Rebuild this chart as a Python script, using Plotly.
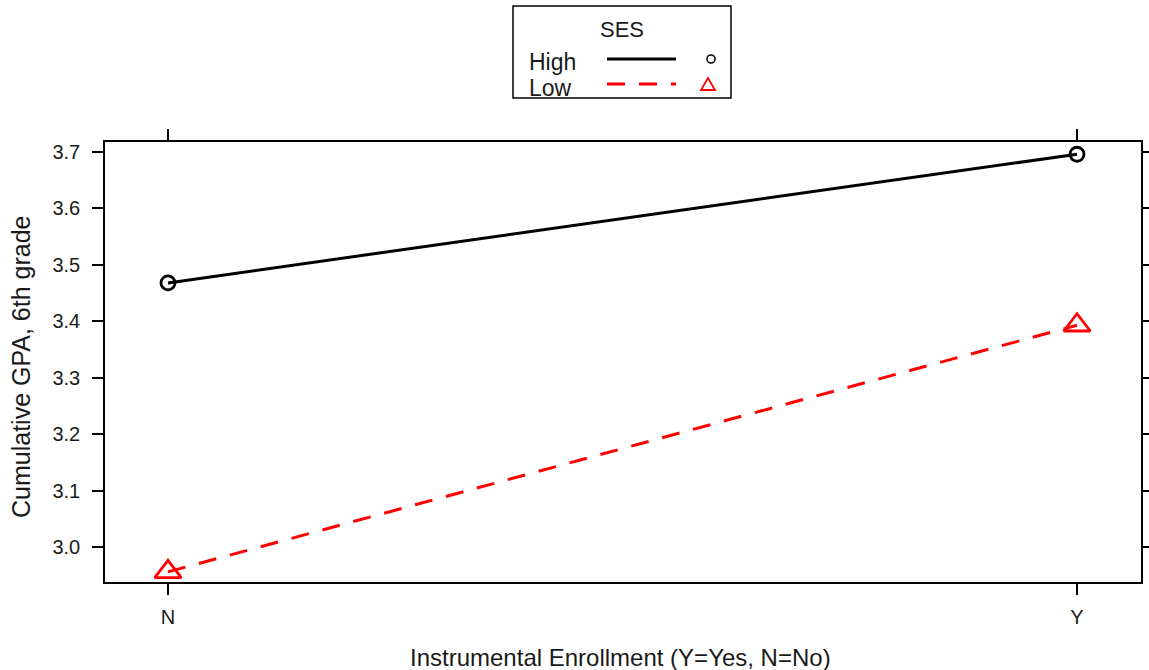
import plotly.graph_objects as go

# ---- data ----
categories = ["N", "Y"]
high_ses = [3.468, 3.696]
low_ses = [2.956, 3.393]
y_ticks = [3.0, 3.1, 3.2, 3.3, 3.4, 3.5, 3.6, 3.7]
y_ticklabels = ["3.0", "3.1", "3.2", "3.3", "3.4", "3.5", "3.6", "3.7"]
legend_title = "SES"
legend_labels = ["High", "Low"]
x_title = "Instrumental Enrollment (Y=Yes, N=No)"
y_title = "Cumulative GPA, 6th grade"

W, H = 1149, 670
ML, MR, MT, MB = 105, 8, 142, 88
PW, PH = W - ML - MR, H - MT - MB

def px(x):
    return (x - ML) / PW

def py(y):
    return (H - MB - y) / PH

FONT = "Liberation Sans, Arial, sans-serif"
TXT = "#1a1a1a"

fig = go.Figure()
fig.add_trace(go.Scatter(
    x=[0, 1], y=high_ses, mode="lines+markers", name="High",
    line=dict(color="black", width=3),
    marker=dict(symbol="circle-open", size=14, color="black", line=dict(width=2.8, color="black")),
    cliponaxis=False, showlegend=False))
fig.add_trace(go.Scatter(
    x=[0, 1], y=low_ses, mode="lines+markers", name="Low",
    line=dict(color="#ff0000", width=3, dash="18px,14px"),
    marker=dict(symbol="triangle-up-open", size=23, color="#ff0000", line=dict(width=2.8, color="#ff0000")),
    cliponaxis=False, showlegend=False))

axis_common = dict(
    showgrid=False, zeroline=False, showline=True, linecolor="black", linewidth=1.6,
    mirror="allticks", ticks="outside", ticklen=11, tickwidth=1.6, tickcolor="black",
    tickfont=dict(family=FONT, size=20, color=TXT), automargin=False,
)
fig.update_xaxes(
    **axis_common, ticklabelstandoff=5,
    range=[-0.0693, 1.0704], tickmode="array", tickvals=[0, 1], ticktext=categories,
)
fig.update_yaxes(
    **axis_common, ticklabelstandoff=8,
    range=[2.938, 3.7177], tickmode="array", tickvals=y_ticks, ticktext=y_ticklabels,
)

# ---- custom legend (lattice style: text, line, point) ----
shapes = [
    dict(type="rect", xref="paper", yref="paper", x0=px(513), x1=px(731), y0=py(98), y1=py(6),
         line=dict(color="black", width=1.5), fillcolor="white", layer="above"),
    dict(type="line", xref="paper", yref="paper", x0=px(607), x1=px(676), y0=py(59), y1=py(59),
         line=dict(color="black", width=3)),
    dict(type="line", xref="paper", yref="paper", x0=px(607), x1=px(676), y0=py(84), y1=py(84),
         line=dict(color="#ff0000", width=3, dash="18px,14px")),
    dict(type="circle", xref="paper", yref="paper", x0=px(707), x1=px(715), y0=py(63), y1=py(55),
         line=dict(color="black", width=1.6)),
    dict(type="path", xref="paper", yref="paper",
         path=f"M {px(701)} {py(90)} L {px(715)} {py(90)} L {px(708)} {py(78)} Z",
         line=dict(color="#ff0000", width=1.8)),
]
annotations = [
    dict(text=legend_title, xref="paper", yref="paper", x=px(622), y=py(30), showarrow=False,
         font=dict(family=FONT, size=22, color=TXT), xanchor="center", yanchor="middle"),
    dict(text=legend_labels[0], xref="paper", yref="paper", x=px(527), y=py(62), showarrow=False,
         font=dict(family=FONT, size=23, color=TXT), xanchor="left", yanchor="middle"),
    dict(text=legend_labels[1], xref="paper", yref="paper", x=px(527), y=py(88), showarrow=False,
         font=dict(family=FONT, size=23, color=TXT), xanchor="left", yanchor="middle"),
    dict(text=x_title, xref="paper", yref="paper", x=px(620), y=py(657), showarrow=False,
         font=dict(family=FONT, size=24, color=TXT), xanchor="center", yanchor="middle"),
    dict(text=y_title, xref="paper", yref="paper", x=px(21), y=py(367), showarrow=False,
         textangle=-90, font=dict(family=FONT, size=25, color=TXT), xanchor="center", yanchor="middle"),
]

fig.update_layout(
    width=W, height=H, margin=dict(l=ML, r=MR, t=MT, b=MB, pad=0),
    plot_bgcolor="white", paper_bgcolor="white",
    shapes=shapes, annotations=annotations, showlegend=False,
)
fig.write_html("out.html")
